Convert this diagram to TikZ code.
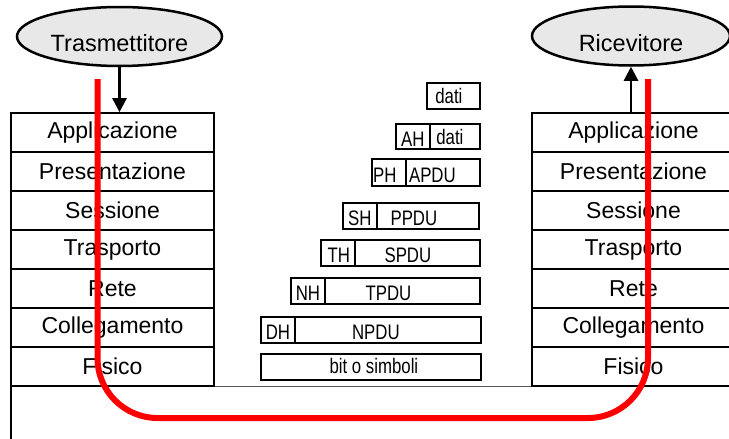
\documentclass[tikz,border=0pt]{standalone}
\usepackage{fontspec}
\usepackage{graphicx}
\setmainfont{Liberation Sans}
\usetikzlibrary{shapes.geometric,arrows.meta}
\definecolor{ellfill}{RGB}{232,232,232}
\newcommand\narrowtxt[1]{\scalebox{0.8}[1]{#1}}
\newcommand\lowtxt[1]{\raisebox{-15pt}[0pt][0pt]{#1}}
\tikzset{
  layerbox/.style={draw, line width=1.6pt, inner sep=0pt, minimum width=203pt, minimum height=39pt,
    font=\fontsize{23}{27}\selectfont},
  endpoint/.style={ellipse, draw, line width=2.5pt, fill=ellfill, inner sep=0pt,
    font=\fontsize{23.5}{27}\selectfont},
  pdubox/.style={draw, line width=1.8pt, inner sep=0pt, anchor=north west, minimum height=26pt},
  pdutext/.style={inner sep=0pt, yshift=-2.5pt, font=\fontsize{21}{24}\selectfont},
  flowarrow/.style={line width=2.5pt, -{Triangle[width=14pt,length=14pt]}},
  redpath/.style={draw=red, line width=6pt, rounded corners=60pt},
}
\begin{document}
\begin{tikzpicture}[x=1pt,y=-1pt]
\clip (0,0) rectangle (729,439);
\fill[white] (0,0) rectangle (729,439);
% base lines
\draw[black!65, line width=1pt] (214,386) -- (532,386);
\draw[line width=1.5pt] (11,386) -- (11,440);
% ellipses
\node[endpoint, minimum width=205pt, minimum height=59pt] (tx) at (119.5,36.5) {\lowtxt{Trasmettitore}};
\node[endpoint, minimum width=198pt, minimum height=59pt] (rx) at (631,36) {\lowtxt{Ricevitore}};
% left stack
\node[layerbox] (l1) at (112.5,132.5) {Applicazione};
\node[layerbox] (l2) at (112.5,171.5) {Presentazione};
\node[layerbox] (l3) at (112.5,210.5) {Sessione};
\node[layerbox] (l4) at (112.5,249.5) {Trasporto};
\node[layerbox] (l5) at (112.5,288.5) {Rete};
\node[layerbox] (l6) at (112.5,327.5) {Collegamento};
\node[layerbox] (l7) at (112.5,366.5) {Fisico};
% right stack
\node[layerbox] (r1) at (633.5,132.5) {Applicazione};
\node[layerbox] (r2) at (633.5,171.5) {Presentazione};
\node[layerbox] (r3) at (633.5,210.5) {Sessione};
\node[layerbox] (r4) at (633.5,249.5) {Trasporto};
\node[layerbox] (r5) at (633.5,288.5) {Rete};
\node[layerbox] (r6) at (633.5,327.5) {Collegamento};
\node[layerbox] (r7) at (633.5,366.5) {Fisico};
% arrows
\draw[flowarrow] (tx.south) -- (tx.south |- l1.north);
\draw[flowarrow] (r1.north -| rx.south) -- (rx.south);
% PDUs
\node[pdubox, minimum width=53pt, label={[pdutext, xshift=-4.5pt, yshift=2.5pt]center:\narrowtxt{dati}}] (d0) at (426,82) {};
\node[pdubox, minimum width=34pt, minimum height=25pt, label={[pdutext]center:\narrowtxt{AH}}] (h1) at (395,123) {};
\node[pdubox, minimum width=50pt, minimum height=25pt, label={[pdutext, xshift=-5pt, yshift=2pt]center:\narrowtxt{dati}}] (d1) at (429,123) {};
\node[pdubox, minimum width=34pt, minimum height=27pt, label={[pdutext, xshift=-4pt]center:\narrowtxt{PH}}] (h2) at (371,158) {};
\node[pdubox, minimum width=74pt, minimum height=27pt, label={[pdutext, xshift=-10.5pt]center:\narrowtxt{APDU}}] (d2) at (405,158) {};
\node[pdubox, minimum width=34pt, label={[pdutext]center:\narrowtxt{SH}}] (h3) at (342,202) {};
\node[pdubox, minimum width=102pt, label={[pdutext, xshift=-14pt]center:\narrowtxt{PPDU}}] (d3) at (376,202) {};
\node[pdubox, minimum width=34pt, label={[pdutext, xshift=1pt]center:\narrowtxt{TH}}] (h4) at (320,239) {};
\node[pdubox, minimum width=125pt, label={[pdutext, xshift=-9.5pt]center:\narrowtxt{SPDU}}] (d4) at (354,239) {};
\node[pdubox, minimum width=34pt, label={[pdutext]center:\narrowtxt{NH}}] (h5) at (290,277) {};
\node[pdubox, minimum width=155pt, label={[pdutext, xshift=-14pt]center:\narrowtxt{TPDU}}] (d5) at (324,277) {};
\node[pdubox, minimum width=34pt, label={[pdutext]center:\narrowtxt{DH}}] (h6) at (260,316) {};
\node[pdubox, minimum width=186pt, label={[pdutext, xshift=-12pt]center:\narrowtxt{NPDU}}] (d6) at (294,316) {};
\node[pdubox, minimum width=220pt, label={[pdutext, xshift=3pt, yshift=3pt]center:\narrowtxt{bit o simboli}}] (d7) at (260,353) {};
% red path
\coordinate (rs) at (97.5,79);
\coordinate (re) at (648,79);
\coordinate (rb) at (370,418);
\draw[redpath] (rs) |- (rb) -| (re);
\end{tikzpicture}
\end{document}
